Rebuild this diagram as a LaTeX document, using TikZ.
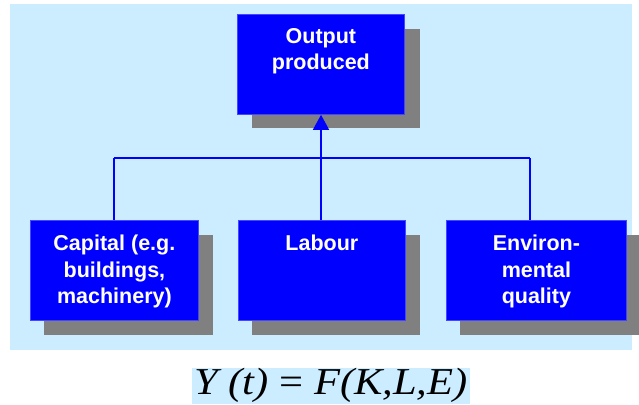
\documentclass[tikz,border=0pt]{standalone}
\usepackage{fontspec}
\setmainfont{Liberation Sans}
\newfontfamily\serifit{Liberation Serif}
\usetikzlibrary{arrows.meta}
\definecolor{bgblue}{RGB}{204,236,255}
\definecolor{boxblue}{RGB}{0,0,255}
\definecolor{edgeblue}{RGB}{70,70,255}
\definecolor{shadowgray}{RGB}{128,128,128}
\begin{document}
\begin{tikzpicture}[x=1pt,y=-1pt,
  bluebox/.style={fill=boxblue,draw=edgeblue,line width=0.8pt,minimum height=100pt,inner sep=0pt,anchor=north west},
  shadowbox/.style={fill=shadowgray,draw=none},
  lbl/.style={text=white,font=\bfseries\fontsize{21.5}{26.5}\selectfont,align=center,inner sep=0pt,anchor=north},
  link/.style={draw=boxblue,line width=1.3pt}]
\useasboundingbox (0,0) rectangle (639,404);
% background
\fill[bgblue] (10,4) rectangle (632,350);
% shadows
\fill[shadowbox] (252,29) rectangle (420,128);
\fill[shadowbox] (44,235) rectangle (213,335);
\fill[shadowbox] (252,235) rectangle (420,335);
\fill[shadowbox] (460,235) rectangle (640,335);
% boxes
\node[bluebox,minimum width=167pt] (out) at (237,14) {};
\node[bluebox,minimum width=168pt] (cap) at (30,220) {};
\node[bluebox,minimum width=167pt] (lab) at (238,220) {};
\node[bluebox,minimum width=180pt] (env) at (446,220) {};
% labels
\node[lbl] (outt) at ([yshift=-14pt]out.north) {Output\\produced};
\node[lbl] (capt) at ([yshift=-15pt]cap.north) {Capital (e.g.\\buildings,\\machinery)};
\node[lbl] (labt) at ([yshift=-15pt]lab.north) {Labour};
\node[lbl] (envt) at ([yshift=-15pt]env.north) {Environ-\\mental\\quality};
% connectors
\coordinate (jc) at (321,158);
\coordinate (jl) at (114,158);
\coordinate (jr) at (530,158);
\draw[link] (lab.north -| jc) -- (jc);
\draw[link] (jl) -- (jr);
\draw[link] (jl) -- (jl |- cap.north);
\draw[link] (jr) -- (jr |- env.north);
\draw[link,-{Triangle[width=16pt,length=15pt]}] (jc) -- (jc |- out.south);
% formula
\fill[bgblue] (192,368) rectangle (470,404);
\node[inner sep=0pt,anchor=base] (formula) at (331,394) {\scalebox{1.12}[1]{\serifit\fontsize{38}{42}\selectfont\itshape Y (t) \upshape= \itshape F(K,L,E)}};
\end{tikzpicture}
\end{document}
